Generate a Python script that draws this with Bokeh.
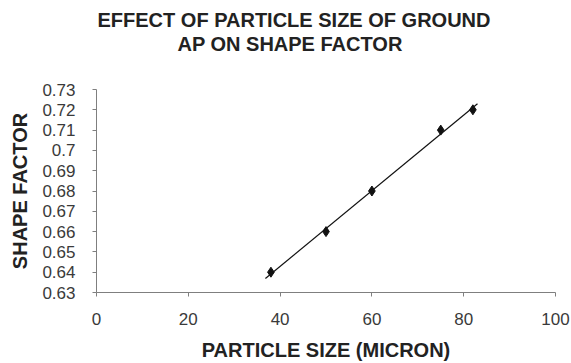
import numpy as np
from bokeh.plotting import figure
from bokeh.models import Title, FixedTicker, CustomJSTickFormatter, Range1d, ColumnDataSource
from bokeh.embed import file_html
from bokeh.resources import INLINE

# Data
particle_size = [38, 50, 60, 75, 82]
shape_factor = [0.64, 0.66, 0.68, 0.71, 0.72]
x_ticks = [0, 20, 40, 60, 80, 100]
y_ticks = [0.63, 0.64, 0.65, 0.66, 0.67, 0.68, 0.69, 0.70, 0.71, 0.72, 0.73]
title_lines = ["EFFECT OF PARTICLE SIZE OF GROUND", "AP ON SHAPE FACTOR"]

FONT = "Liberation Sans"

p = figure(width=571, height=363, output_backend="svg", toolbar_location=None,
           x_range=Range1d(x_ticks[0], x_ticks[-1]), y_range=Range1d(y_ticks[0], y_ticks[-1]),
           min_border_left=96, min_border_right=16, min_border_top=89, min_border_bottom=70)
p.title = None
p.outline_line_color = None
p.background_fill_color = "white"
p.border_fill_color = "white"
p.grid.visible = False

# Linear trend line (least squares), drawn slightly beyond the data range
coef = np.polyfit(particle_size, shape_factor, 1)
tx = np.array([min(particle_size) - 1.2, max(particle_size) + 1.0])
p.line(tx, np.polyval(coef, tx), line_color="#111111", line_width=1.2)

src = ColumnDataSource(dict(x=particle_size, y=shape_factor))
p.scatter("x", "y", source=src, marker="diamond", size=10, fill_color="#111111", line_color="#111111")

# Axes
for ax in (p.xaxis[0], p.yaxis[0]):
    ax.axis_line_color = "#7f7f7f"
    ax.major_tick_line_color = "#7f7f7f"
    ax.minor_tick_line_color = None
    ax.major_tick_in = 0
    ax.major_tick_out = 4
    ax.major_label_text_font = FONT
    ax.major_label_text_font_size = "17px"
    ax.major_label_text_color = "#3a3a3a"
    ax.axis_label_text_font = FONT
    ax.axis_label_text_font_style = "bold"
    ax.axis_label_text_font_size = "20px"
    ax.axis_label_text_color = "#222222"

p.xaxis.ticker = FixedTicker(ticks=x_ticks)
p.yaxis.ticker = FixedTicker(ticks=y_ticks)
p.yaxis.formatter = CustomJSTickFormatter(code="return String(parseFloat(tick.toFixed(2)));")
p.xaxis.axis_label = "PARTICLE SIZE (MICRON)"
p.yaxis.axis_label = "SHAPE FACTOR"
p.xaxis.major_label_standoff = 16
p.xaxis.axis_label_standoff = 11
p.yaxis.major_label_standoff = 17
p.yaxis.axis_label_standoff = 8

# Spacer between title and plot area, then the two title lines
spacer = Title(text=" ", align="left", standoff=21, text_font=FONT, text_font_size="10px")
t2 = Title(text=title_lines[1], align="left", offset=81, standoff=1,
           text_font=FONT, text_font_size="20px", text_font_style="bold", text_color="#222222")
t1 = Title(text=title_lines[0], align="left", offset=1, standoff=0,
           text_font=FONT, text_font_size="20px", text_font_style="bold", text_color="#222222")
p.add_layout(spacer, "above")
p.add_layout(t2, "above")
p.add_layout(t1, "above")

open("out.html", "w").write(file_html(p, INLINE))
